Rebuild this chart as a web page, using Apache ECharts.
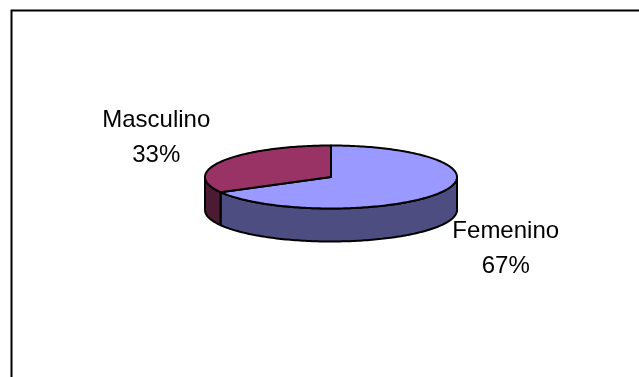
<!DOCTYPE html>
<html>
<head>
<meta charset="utf-8">
<script src="https://cdn.jsdelivr.net/npm/echarts@6/dist/echarts.min.js"></script>
<style>
  html, body { margin: 0; padding: 0; background: #fff; }
  #chart { width: 639px; height: 377px; }
</style>
</head>
<body>
<div id="chart"></div>
<script>
// datos del grafico
var categories = ['Femenino', 'Masculino']
var values = [67, 33]
var topColors = ['#9999FF', '#993366']
var sideColors = ['#4D4D82', '#4D1A33']

// geometria del pastel 3D (elipse)
var cx = 331
var cy = 177
var rx = 126
var ry = 31.5
var depth = 33

var total = values.reduce(function (a, b) { return a + b }, 0)

function pt (theta, dy) {
  // theta: angulo en sentido horario desde las 12
  return [cx + rx * Math.sin(theta), cy - ry * Math.cos(theta) + (dy || 0)]
}

function arcPoints (a1, a2, dy) {
  var pts = []
  var n = Math.max(2, Math.ceil((a2 - a1) / 0.02))
  for (var i = 0; i <= n; i++) {
    pts.push(pt(a1 + (a2 - a1) * i / n, dy))
  }
  return pts
}

function renderSlice (params, api) {
  var idx = params.dataIndex
  var before = 0
  for (var i = 0; i < idx; i++) before += values[i]
  var v = api.value(0)
  var a1 = before / total * Math.PI * 2
  var a2 = (before + v) / total * Math.PI * 2
  var children = []

  // cara lateral visible (mitad frontal: 90..270 grados)
  var s1 = Math.max(a1, Math.PI / 2)
  var s2 = Math.min(a2, Math.PI * 3 / 2)
  if (s2 > s1) {
    var topEdge = arcPoints(s1, s2, 0)
    var botEdge = arcPoints(s1, s2, depth).reverse()
    children.push({
      type: 'polygon',
      shape: { points: topEdge.concat(botEdge) },
      style: { fill: sideColors[idx], stroke: '#000', lineWidth: 2, lineJoin: 'round' }
    })
  }

  // cara superior
  children.push({
    type: 'polygon',
    shape: { points: [[cx, cy]].concat(arcPoints(a1, a2, 0)) },
    style: { fill: topColors[idx], stroke: '#000', lineWidth: 2, lineJoin: 'round' }
  })

  // etiqueta
  var mid = (a1 + a2) / 2
  var lx = cx + 203 * Math.sin(mid)
  var ly = cy - 76 * Math.cos(mid)
  if (Math.cos(mid) < 0) ly += depth
  children.push({
    type: 'text',
    x: lx,
    y: ly,
    style: {
      text: categories[idx] + '\n' + Math.round(v / total * 100) + '%',
      fill: '#000',
      fontSize: 24,
      fontFamily: 'Arial, "Liberation Sans", sans-serif',
      align: 'center',
      verticalAlign: 'middle',
      lineHeight: 35
    }
  })

  return { type: 'group', children: children }
}

var myChart = echarts.init(document.getElementById('chart'))
myChart.setOption({
  animation: false,
  backgroundColor: '#fff',
  graphic: [
    {
      type: 'rect',
      left: 9,
      top: 8,
      shape: { width: 700, height: 500 },
      style: { fill: 'none', stroke: '#000', lineWidth: 2 },
      silent: true
    }
  ],
  series: [
    {
      type: 'custom',
      coordinateSystem: 'none',
      renderItem: renderSlice,
      data: values.map(function (v, i) {
        return { value: [v], name: categories[i] }
      })
    }
  ]
})
</script>
</body>
</html>
